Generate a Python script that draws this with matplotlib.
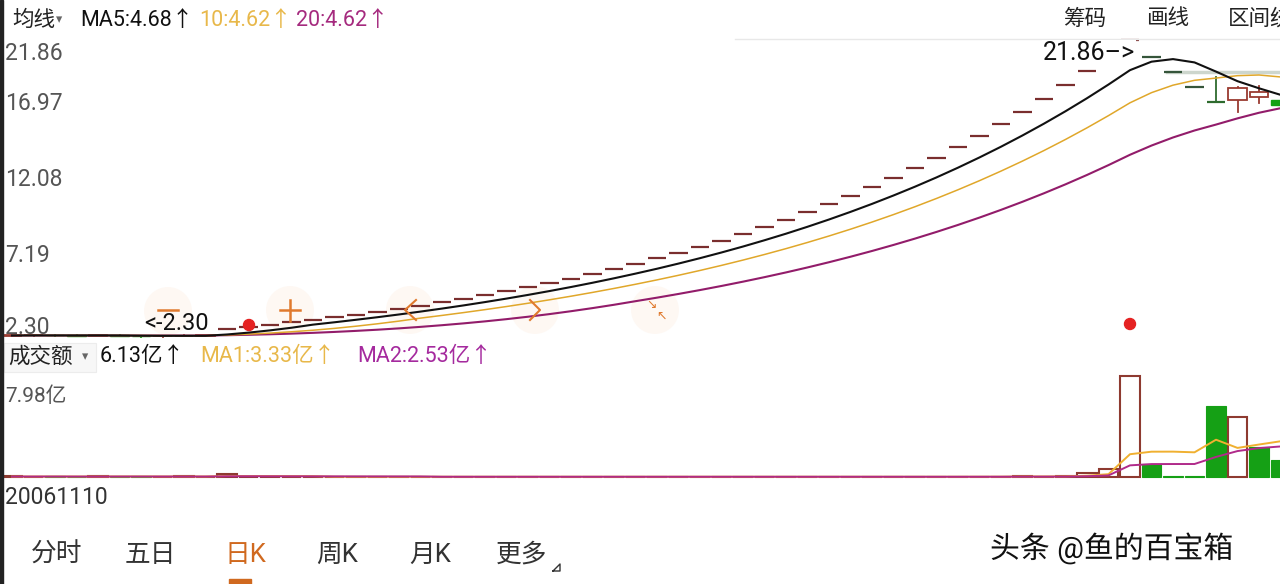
import matplotlib
matplotlib.use('Agg')
import matplotlib.pyplot as plt
import numpy as np
import pandas as pd
from matplotlib.patches import Rectangle, Circle
import matplotlib.patheffects as pe

plt.rcParams['font.family'] = ['Roboto', 'Noto Sans CJK SC', 'DejaVu Sans']

# ---------------- data ----------------
# closes of the sessions just before the first visible candle (flat, used for the MAs)
pre_closes = [2.41, 2.40, 2.42, 2.40, 2.39, 2.41, 2.40, 2.38, 2.40, 2.41,
              2.39, 2.40, 2.42, 2.41, 2.40, 2.39, 2.40, 2.41, 2.40, 2.39]
pre_volumes = [0.04, 0.03, 0.05, 0.03, 0.04, 0.03, 0.04, 0.05, 0.03, 0.04,
               0.03, 0.04, 0.03, 0.05, 0.04, 0.03, 0.04, 0.03, 0.04, 0.03]

opens = [2.39, 2.40, 2.42, 2.41, 2.39, 2.40, 2.37, 2.34, 2.37, 2.39,
         2.82, 2.96, 3.11, 3.26, 3.42, 3.60, 3.78, 3.96, 4.16, 4.37,
         4.59, 4.82, 5.06, 5.31, 5.58, 5.86, 6.15, 6.46, 6.78, 7.12,
         7.47, 7.85, 8.24, 8.65, 9.08, 9.54, 10.01, 10.52, 11.04, 11.59,
         12.17, 12.78, 13.42, 14.09, 14.80, 15.54, 16.31, 17.13, 17.98, 18.88,
         19.83, 20.82, 21.86, 20.77, 19.73, 18.74, 17.80, 17.91, 18.12, 17.91]
highs = [2.42, 2.44, 2.43, 2.42, 2.41, 2.41, 2.38, 2.38, 2.40, 2.42,
         2.82, 2.96, 3.11, 3.26, 3.42, 3.60, 3.78, 3.96, 4.16, 4.37,
         4.59, 4.82, 5.06, 5.31, 5.58, 5.86, 6.15, 6.46, 6.78, 7.12,
         7.47, 7.85, 8.24, 8.65, 9.08, 9.54, 10.01, 10.52, 11.04, 11.59,
         12.17, 12.78, 13.42, 14.09, 14.80, 15.54, 16.31, 17.13, 17.98, 18.88,
         19.83, 20.82, 21.86, 20.77, 19.73, 18.74, 19.42, 18.75, 18.83, 17.95]
lows = [2.37, 2.38, 2.39, 2.37, 2.36, 2.34, 2.30, 2.33, 2.35, 2.37,
        2.82, 2.96, 3.11, 3.26, 3.42, 3.60, 3.78, 3.96, 4.16, 4.37,
        4.59, 4.82, 5.06, 5.31, 5.58, 5.86, 6.15, 6.46, 6.78, 7.12,
        7.47, 7.85, 8.24, 8.65, 9.08, 9.54, 10.01, 10.52, 11.04, 11.59,
        12.17, 12.78, 13.42, 14.09, 14.80, 15.54, 16.31, 17.13, 17.98, 18.88,
        19.83, 20.82, 21.86, 20.77, 19.73, 18.74, 17.80, 17.12, 17.71, 17.50]
closes = [2.40, 2.42, 2.41, 2.39, 2.40, 2.38, 2.35, 2.37, 2.39, 2.40,
          2.82, 2.96, 3.11, 3.26, 3.42, 3.60, 3.78, 3.96, 4.16, 4.37,
          4.59, 4.82, 5.06, 5.31, 5.58, 5.86, 6.15, 6.46, 6.78, 7.12,
          7.47, 7.85, 8.24, 8.65, 9.08, 9.54, 10.01, 10.52, 11.04, 11.59,
          12.17, 12.78, 13.42, 14.09, 14.80, 15.54, 16.31, 17.13, 17.98, 18.88,
          19.83, 20.82, 21.86, 20.77, 19.73, 18.74, 17.80, 18.70, 18.43, 17.58]
# turnover, 亿
volumes = [0.04, 0.03, 0.05, 0.03, 0.04, 0.05, 0.04, 0.03, 0.04, 0.03,
           0.25, 0.03, 0.02, 0.02, 0.02, 0.02, 0.02, 0.02, 0.02, 0.02,
           0.02, 0.02, 0.02, 0.02, 0.02, 0.02, 0.02, 0.02, 0.02, 0.02,
           0.02, 0.02, 0.02, 0.02, 0.02, 0.02, 0.02, 0.02, 0.02, 0.02,
           0.02, 0.02, 0.02, 0.02, 0.02, 0.03, 0.03, 0.10, 0.03, 0.04,
           0.32, 0.63, 7.98, 1.03, 0.06, 0.05, 5.61, 4.74, 2.37, 1.34]
vol_up = [True, True, False, False, True, False, False, True, True, True,
          True, True, True, True, True, True, True, True, True, True,
          True, True, True, True, True, True, True, True, True, True,
          True, True, True, True, True, True, True, True, True, True,
          True, True, True, True, True, True, True, True, True, True,
          True, True, True, False, False, False, False, True, False, False]

price_ticks = [21.86, 16.97, 12.08, 7.19, 2.30]
vol_top_label = '7.98亿'
first_date = '20061110'
tabs = ['分时', '五日', '日K', '周K', '月K', '更多']

# ---------------- figure ----------------
W, H = 1280, 584
fig = plt.figure(figsize=(W / 100, H / 100), dpi=100)
fig.patch.set_facecolor('white')


def rect(x0, y0, x1, y1):
    return [x0 / W, 1 - y1 / H, (x1 - x0) / W, (y1 - y0) / H]


STEP = 21.5
X0 = 12.0
n = len(closes)
idx = np.arange(n)
xlim = (-X0 / STEP, (W - X0) / STEP)

RED_DASH = '#7a2e2e'
RED_EDGE = '#9a3a30'
GRN_DASH = '#35553a'
GRN = '#15a015'
GOLD = '#e0a72a'
PURP = '#921c6a'

# ---- price panel ----
k = (337 - 40) / (21.86 - 2.30)
axp = fig.add_axes(rect(0, 36, W, 342))
axp.set_xlim(*xlim)
axp.set_ylim(2.30 - 5 / k, 21.86 + 4 / k)
axp.axis('off')

prev = pre_closes[-1]
bw = 0.84
for i in idx:
    o, h, l, c = opens[i], highs[i], lows[i], closes[i]
    if abs(c - o) < 1e-9:
        up = c >= prev
        if h - l < 1e-9:
            axp.plot([i - bw / 2, i + bw / 2], [c, c], color=RED_DASH if up else GRN_DASH,
                     lw=1.6, solid_capstyle='butt', zorder=3)
        else:
            colr = RED_EDGE if up else '#2e6b2e'
            axp.plot([i, i], [l, h], color=colr, lw=1.3, zorder=3)
            axp.plot([i - bw / 2, i + bw / 2], [c, c], color=colr, lw=1.6,
                     solid_capstyle='butt', zorder=3)
    elif c > o:
        axp.plot([i, i], [l, o], color=RED_EDGE, lw=1.3, zorder=3)
        axp.plot([i, i], [c, h], color=RED_EDGE, lw=1.3, zorder=3)
        axp.add_patch(Rectangle((i - bw / 2, o), bw, c - o, facecolor='white',
                                edgecolor=RED_EDGE, lw=1.3, zorder=3))
    else:
        axp.plot([i, i], [l, h], color=GRN, lw=1.3, zorder=3)
        axp.add_patch(Rectangle((i - bw / 2, c), bw, o - c, facecolor=GRN,
                                edgecolor=GRN, lw=1.0, zorder=3))
    prev = c

allc = pd.Series(pre_closes + closes)
ma5 = allc.rolling(5).mean().to_numpy()[len(pre_closes):]
ma10 = allc.rolling(10).mean().to_numpy()[len(pre_closes):]
ma20 = allc.rolling(20).mean().to_numpy()[len(pre_closes):]
axp.plot(idx, ma20, color=PURP, lw=1.5, zorder=4)
axp.plot(idx, ma10, color=GOLD, lw=1.1, zorder=4)
axp.plot(idx, ma5, color='#111111', lw=1.5, zorder=5)

# ---- volume panel ----
k2 = (477 - 376) / 7.98
axv = fig.add_axes(rect(0, 370, W, 480))
axv.set_xlim(*xlim)
axv.set_ylim(-3 / k2, 7.98 + 6 / k2)
axv.axis('off')
for i in idx:
    v = volumes[i]
    if vol_up[i]:
        axv.add_patch(Rectangle((i - bw / 2 - 0.04, 0), bw + 0.08, v, facecolor='white',
                                edgecolor='#8e3a30', lw=1.5, zorder=2))
    else:
        axv.add_patch(Rectangle((i - bw / 2 - 0.04, 0), bw + 0.08, v, facecolor=GRN,
                                edgecolor=GRN, lw=0.8, zorder=2))
allv = pd.Series(pre_volumes + volumes)
vma5 = allv.rolling(5).mean().to_numpy()[len(pre_volumes):]
vma10 = allv.rolling(10).mean().to_numpy()[len(pre_volumes):]
axv.plot(idx, vma5, color='#f0b030', lw=1.4, zorder=4)
axv.plot(idx, vma10, color='#b02a8a', lw=1.4, zorder=5)

# ---- overlay for chrome / texts ----
ov = fig.add_axes([0, 0, 1, 1], zorder=10)
ov.set_xlim(0, W)
ov.set_ylim(H, 0)
ov.patch.set_alpha(0)
ov.axis('off')

# left border
ov.add_patch(Rectangle((0, 0), 2.5, H, color='#222222', zorder=20))
# top separator
ov.plot([735, W], [38.5, 38.5], color='#e8e8e8', lw=1.0)
# pale highlight band
axp.plot([53.7, 59.5], [19.74, 19.74], color='#cdd6cd', lw=2.5, zorder=2)

FS = 15.5
# top header
ov.text(12, 20, '均线', fontsize=FS, va='center', ha='left', color='#222222')
ov.text(56, 20, '▾', fontsize=9, va='center', ha='left', color='#666666',
        family=['DejaVu Sans'])
ov.text(80, 20, 'MA5:4.68↑', fontsize=FS, va='center', ha='left', color='#111111')
ov.text(199, 20, '10:4.62↑', fontsize=FS, va='center', ha='left', color='#e8b84a')
ov.text(296, 20, '20:4.62↑', fontsize=FS, va='center', ha='left', color='#a52a7e')
ov.text(1085, 19, '筹码', fontsize=FS, va='center', ha='center', color='#222222')
ov.text(1168, 19, '画线', fontsize=FS, va='center', ha='center', color='#222222')
ov.text(1228, 19, '区间统', fontsize=FS, va='center', ha='left', color='#222222')

# price labels
for val, py in zip(price_ticks, [54, 104, 180, 255, 327]):
    ov.text(5, py, f'{val:.2f}', fontsize=16.5, va='center', ha='left', color='#555555')

ov.text(1043, 53, '21.86–>', fontsize=18, va='center', ha='left', color='#111111',
        bbox=dict(facecolor='white', edgecolor='none', pad=0.5))
ov.text(144, 323, '<-2.30', fontsize=17, va='center', ha='left', color='#111111')

# red markers
ov.add_patch(Circle((249, 325), 5.5, color='#e52222', zorder=12))
ov.add_patch(Circle((1130, 324), 5.5, color='#e52222', zorder=12))

# floating buttons (glow + glyph)
for (bx, by) in [(168, 311), (290, 310), (410, 310), (535, 310), (655, 310)]:
    axp.add_patch(Circle((bx, by), 24, transform=ov.transData, facecolor='#fdf0e6',
                         edgecolor='none', alpha=0.45, zorder=1))
ORG = '#e07a2e'
ov.plot([158, 178], [310, 310], color=ORG, lw=1.8, zorder=15)
ov.plot([280, 300], [310, 310], color=ORG, lw=1.8, zorder=15)
ov.plot([290, 290], [300, 321], color=ORG, lw=1.8, zorder=15)
ov.plot([416, 405, 416], [300, 310, 320], color=ORG, lw=1.5, zorder=15)
ov.plot([530, 540, 530], [300, 310, 320], color=ORG, lw=1.5, zorder=15)
ov.text(651, 305, '↘', fontsize=9, ha='center', va='center', color=ORG,
        family=['DejaVu Sans'], zorder=15)
ov.text(661, 316, '↖', fontsize=9, ha='center', va='center', color=ORG,
        family=['DejaVu Sans'], zorder=15)

# volume header
ov.add_patch(Rectangle((4, 343), 92, 29, facecolor='#f7f7f7', edgecolor='#ececec', lw=0.8))
ov.text(8, 357, '成交额', fontsize=FS, va='center', ha='left', color='#222222')
ov.text(82, 357, '▾', fontsize=9, va='center', ha='left', color='#666666',
        family=['DejaVu Sans'])
ov.text(100, 357, '6.13亿↑', fontsize=FS, va='center', ha='left', color='#111111')
ov.text(200, 357, 'MA1:3.33亿↑', fontsize=FS, va='center', ha='left', color='#e8b84a')
ov.text(357, 357, 'MA2:2.53亿↑', fontsize=FS, va='center', ha='left', color='#a52a9e')
ov.text(5, 396, vol_top_label, fontsize=15, va='center', ha='left', color='#555555')
ov.text(5, 497, first_date, fontsize=16.5, va='center', ha='left', color='#333333')

# bottom tabs
tab_x = [57, 150, 245, 337, 430, 522]
for t, tx in zip(tabs, tab_x):
    ov.text(tx, 555, t, fontsize=18.5, va='center', ha='center',
            color='#d0691f' if t == '日K' else '#333333')
ov.plot([553, 560, 560, 553], [571, 564, 571, 571], color='#333333', lw=1)
ov.add_patch(Rectangle((229, 579), 22, 5, color='#d0691f'))

# watermark
ov.text(990, 548, '头条 @鱼的百宝箱', fontsize=21.5, va='center', ha='left', color='#111111',
        path_effects=[pe.withStroke(linewidth=3, foreground='white')])

fig.savefig('out.png', dpi=100, facecolor='white')
